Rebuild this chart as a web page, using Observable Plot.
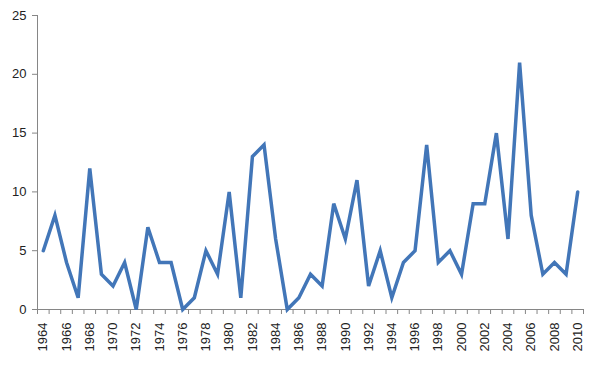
<!DOCTYPE html>
<html>
<head>
<meta charset="utf-8">
<script src="https://cdn.jsdelivr.net/npm/d3@7"></script>
<script src="https://cdn.jsdelivr.net/npm/@observablehq/plot@0.6"></script>
<style>
  html, body { margin: 0; padding: 0; background: #fff; }
  #chart svg { display: block; }
</style>
</head>
<body>
<div id="chart"></div>
<script>
const years = [1964,1965,1966,1967,1968,1969,1970,1971,1972,1973,1974,1975,1976,1977,1978,1979,1980,1981,1982,1983,1984,1985,1986,1987,1988,1989,1990,1991,1992,1993,1994,1995,1996,1997,1998,1999,2000,2001,2002,2003,2004,2005,2006,2007,2008,2009,2010];
const counts = [5,8,4,1,12,3,2,4,0,7,4,4,0,1,5,3,10,1,13,14,6,0,1,3,2,9,6,11,2,5,1,4,5,14,4,5,3,9,9,15,6,21,8,3,4,3,10];
const yTicks = [0,5,10,15,20,25];
const xLabelYears = [1964,1966,1968,1970,1972,1974,1976,1978,1980,1982,1984,1986,1988,1990,1992,1994,1996,1998,2000,2002,2004,2006,2008,2010];

const data = years.map((year, i) => ({year, count: counts[i]}));
const boundaries = years.map(y => y - 0.5).concat([years[years.length - 1] + 0.5]);
const x0 = years[0] - 0.5, x1 = years[years.length - 1] + 0.5;

const axisColor = "#868686";
const textColor = "#222";

const chart = Plot.plot({
  width: 600,
  height: 369,
  marginLeft: 37,
  marginRight: 17,
  marginTop: 15,
  marginBottom: 60,
  style: {fontFamily: "Liberation Sans, Arial, sans-serif", fontSize: "13px", color: textColor, background: "#fff"},
  x: {type: "linear", domain: [x0, x1], axis: null},
  y: {domain: [0, 25], axis: null},
  marks: [
    Plot.axisY({ticks: yTicks, tickSize: 5, tickPadding: 6, stroke: axisColor, fill: textColor, fontSize: 13, label: null}),
    Plot.axisX({ticks: boundaries, tickSize: 5, tickFormat: () => "", stroke: axisColor, label: null}),
    Plot.axisX({ticks: xLabelYears, tickSize: 0, tickPadding: 13, tickRotate: -90, tickFormat: d => String(d), fill: textColor, fontSize: 13, label: null}),
    Plot.ruleY([0], {stroke: axisColor, strokeWidth: 1}),
    Plot.ruleX([x0], {y1: 0, y2: 25, stroke: axisColor, strokeWidth: 1}),
    Plot.line(data, {x: "year", y: "count", stroke: "#4276b8", strokeWidth: 3.5, strokeLinejoin: "miter", strokeMiterlimit: 4})
  ]
});
document.getElementById("chart").appendChild(chart);
</script>
</body>
</html>
